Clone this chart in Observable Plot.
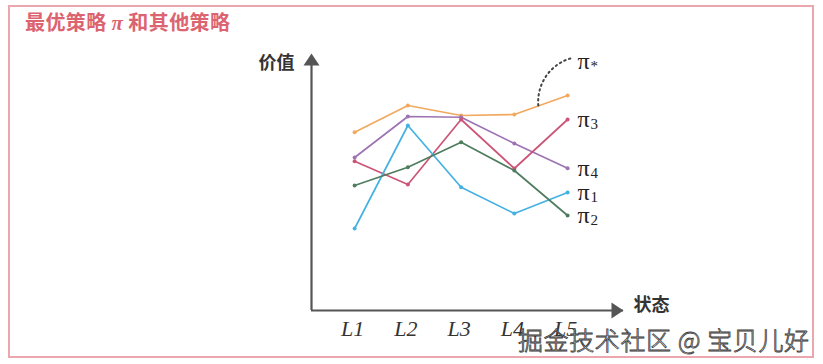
<!DOCTYPE html>
<html><head><meta charset="utf-8">
<script src="https://cdn.jsdelivr.net/npm/d3@7"></script>
<script src="https://cdn.jsdelivr.net/npm/@observablehq/plot@0.6"></script>
<style>
body{margin:0;background:#fff;}
#wrap{position:relative;width:823px;height:364px;overflow:hidden;}
#frame{position:absolute;left:8px;top:5px;width:802px;height:349px;border:2px solid #eba7ad;}
#title{position:absolute;left:25px;top:7px;font:bold 20px "Noto Sans CJK SC";letter-spacing:0.4px;color:#dc6470;white-space:pre;}
#title .pi{font-family:"Liberation Serif";font-style:italic;font-weight:bold;font-size:21px;}
#chart{position:absolute;left:0;top:0;}
#wm{position:absolute;left:518px;top:321px;font:300 25px "Noto Sans CJK SC";letter-spacing:0.6px;color:#fcfcfc;-webkit-text-stroke:0.8px #3a3a3a;white-space:pre;}
</style></head><body>
<div id="wrap">
<div id="frame"></div>
<div id="title">最优策略 <span class="pi">π</span> 和其他策略</div>
<div id="chart"></div>
<div id="wm">掘金技术社区 @ 宝贝儿好</div>
</div>
<script>
// states (x) and their labels
const states = [1, 2, 3, 4, 5];
const stateLabels = ["L1", "L2", "L3", "L4", "L5"];
// series values (value axis 0..100)
const piStar = [71.3, 82.0, 78.0, 78.4, 86.0];
const pi4 = [61.2, 77.6, 77.3, 66.8, 56.9];
const pi3 = [59.7, 50.4, 76.4, 56.8, 76.4];
const pi1 = [32.8, 74.0, 49.3, 38.8, 47.2];
const pi2 = [50.0, 57.3, 67.3, 56.0, 38.0];
const seriesNames = ["π*", "π4", "π3", "π1", "π2"];
const seriesSubs = ["*", "4", "3", "1", "2"];
const seriesColors = ["#f2a95f", "#9d73b3", "#cc5577", "#45b1e3", "#4f7d5f"];
const seriesValues = [piStar, pi4, pi3, pi1, pi2];

const rows = seriesNames.flatMap((name, s) =>
  seriesValues[s].map((v, i) => ({state: states[i], value: v, name, sub: seriesSubs[s]})));
const ends = rows.filter(d => d.state === 5 && d.sub !== "*");
const starEnd = rows.filter(d => d.state === 5 && d.sub === "*");

const xDomain = [0.19, 6.05];
const yDomain = [0, 102.8];

const arrowHead = {
  draw(ctx) {
    ctx.moveTo(0, 0);
    ctx.lineTo(-8, 12);
    ctx.lineTo(8, 12);
    ctx.closePath();
  }
};

const labelFont = {fontFamily: "Liberation Serif", fill: "#222", textAnchor: "start"};

const chart = Plot.plot({
  width: 823, height: 364,
  marginLeft: 311, marginRight: 200, marginTop: 53, marginBottom: 54,
  x: {domain: xDomain, axis: null},
  y: {domain: yDomain, axis: null},
  color: {domain: seriesNames, range: seriesColors},
  marks: [
    // axes
    Plot.ruleY([yDomain[0]], {stroke: "#555", strokeWidth: 2.2}),
    Plot.ruleX([xDomain[0]], {stroke: "#555", strokeWidth: 2.2, y1: yDomain[0], y2: yDomain[1] - 2}),
    Plot.dot([{x: xDomain[0], y: yDomain[1]}], {x: "x", y: "y", symbol: arrowHead, fill: "#555", stroke: "none"}),
    Plot.dot([{x: xDomain[1], y: yDomain[0]}], {x: "x", y: "y", symbol: arrowHead, fill: "#555", stroke: "none", rotate: 90}),
    Plot.text(["价值"], {frameAnchor: "top-left", textAnchor: "middle", dx: -35, dy: 3, fontSize: 18, fontWeight: "bold", fontFamily: "Noto Sans CJK SC", fill: "#333"}),
    Plot.text(["状态"], {frameAnchor: "bottom-right", dx: 10, dy: 0, textAnchor: "start", fontSize: 18, fontWeight: "bold", fontFamily: "Noto Sans CJK SC", fill: "#333"}),
    // tick labels
    Plot.text(states, {x: d => d, text: (d, i) => stateLabels[i], frameAnchor: "bottom", dy: 25, dx: -2, fontSize: 22, fontStyle: "italic", fontFamily: "Liberation Serif", fill: "#333"}),
    // series
    Plot.line(rows, {x: "state", y: "value", z: "name", stroke: "name", strokeWidth: 1.7}),
    Plot.dot(rows, {x: "state", y: "value", fill: "name", r: 2}),
    // labels: π with subscript
    Plot.text(ends, {x: "state", y: "value", text: () => "π", dx: 10, dy: 0, fontSize: 24, ...labelFont}),
    Plot.text(ends, {x: "state", y: "value", text: "sub", dx: 23, dy: 5, fontSize: 15, ...labelFont}),
    Plot.text(starEnd, {x: "state", y: "value", text: () => "π", dx: 10, dy: -34, fontSize: 24, ...labelFont}),
    Plot.text(starEnd, {x: "state", y: "value", text: "sub", dx: 23, dy: -29, fontSize: 15, ...labelFont}),
    // dotted connector from π* line to label
    Plot.arrow([{x1: 4.45, y1: 82, x2: 5.08, y2: 101}], {x1: "x1", y1: "y1", x2: "x2", y2: "y2", bend: 40, headLength: 0, stroke: "#444", strokeWidth: 2, strokeDasharray: "1.5,3.5", strokeLinecap: "round"})
  ]
});
document.getElementById("chart").append(chart);
</script>
</body></html>
